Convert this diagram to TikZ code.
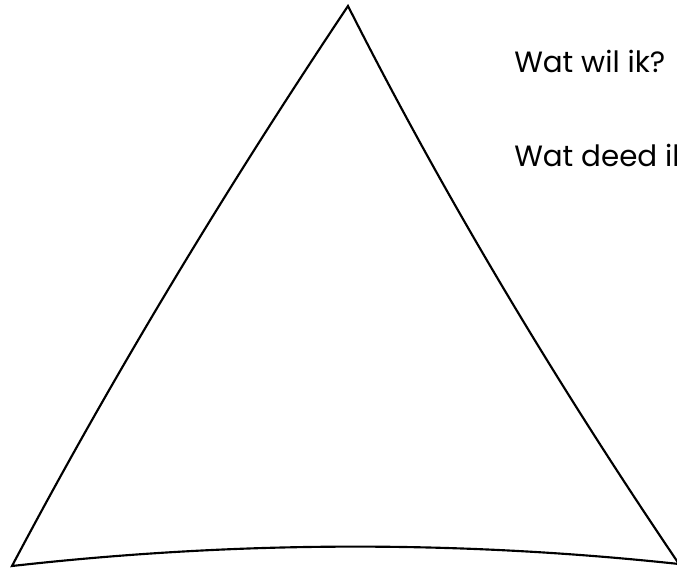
\documentclass[tikz,border=0pt]{standalone}
\usepackage{fontspec}
\setmainfont{Poppins}
\usepackage{tikz}
\usetikzlibrary{positioning, calc}

\begin{document}
\begin{tikzpicture}[
    x=0.75pt, y=-0.75pt,
    every node/.style={font=\fontsize{22}{26}\selectfont},
    triside/.style={draw=black, line width=1.6pt, line join=miter},
    question/.style={anchor=base west, inner sep=0pt, text=black}
]
    \useasboundingbox (0,0) rectangle (677,567);

    % corners of the triangle
    \coordinate (top) at (348,6);
    \coordinate (botleft) at (12,566);
    \coordinate (botright) at (679,564);

    \draw[triside] (top) .. controls (223,193) and (111,379) .. (botleft)
        .. controls (234,541) and (456,540) .. (botright)
        .. controls (553,378) and (442,192) .. cycle;

    \node[question] (wil) at (514,73) {Wat wil ik?};
    \node[question] (deed) at (514,166) {Wat deed ik};
\end{tikzpicture}
\end{document}
